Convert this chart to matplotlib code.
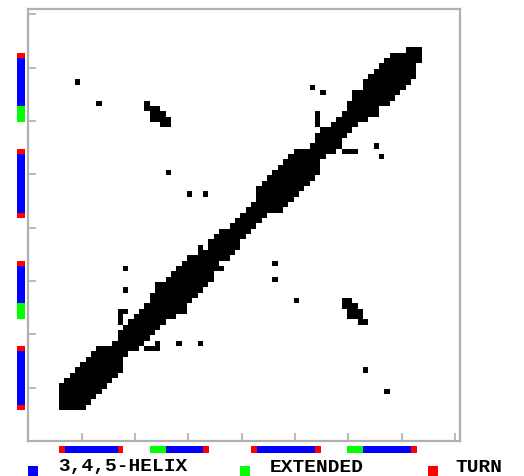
import numpy as np
import matplotlib
matplotlib.use("Agg")
import matplotlib.pyplot as plt
from matplotlib.colors import ListedColormap
from matplotlib.patches import Rectangle

# Residue contact map (symmetric), residues indexed 0..80
N_RES = 81
BAND_FIRST = 6
# highest contacting residue for each residue BAND_FIRST.. (diagonal band)
band_hi = [10, 11, 12, 13, 14, 15, 16, 17, 17, 17,   # 6-15
           18, 20, 21, 22, 23, 24, 25, 27, 29, 29,   # 16-25
           30, 31, 32, 33, 34, 34, 36, 35, 37, 38,   # 26-35
           39, 39, 40, 41, 42, 43, 44, 47, 48, 49,   # 36-45
           50, 51, 52, 53, 54, 54, 54, 55, 57, 58,   # 46-55
           58, 59, 60, 61, 63, 65, 65, 67, 68, 69,   # 56-65
           70, 71, 72, 72, 72, 73, 73, 73]           # 66-73

# off-band contacts (i < j)
extra_contacts = [(9, 67), (13, 63), (17, 22), (17, 23), (17, 24), (18, 24),
                  (18, 28), (18, 32), (26, 50), (30, 46), (33, 46),
                  (53, 66), (55, 65), (54, 59), (54, 60), (54, 61),
                  (22, 63), (22, 62), (23, 62), (24, 62), (23, 61), (24, 61),
                  (25, 61), (23, 60), (24, 60), (25, 60), (26, 60), (25, 59),
                  (26, 59)]

# secondary structure segments (first residue, last residue, type)
ss_first = [6, 7, 17, 23, 26, 33, 42, 43, 54, 60, 63, 72]
ss_last = [6, 16, 17, 25, 32, 33, 42, 53, 54, 62, 71, 72]
ss_type = ["T", "H", "T", "E", "H", "T", "T", "H", "T", "E", "H", "T"]

legend_labels = ["3,4,5-HELIX", "EXTENDED", "TURN"]
ss_colors = {"H": "#0000ff", "E": "#00ff00", "T": "#ff0000"}

# build the matrix
cmap_mat = np.zeros((N_RES, N_RES))
for k, hi in enumerate(band_hi):
    i = BAND_FIRST + k
    cmap_mat[i, i:hi + 1] = 1
for i, j in extra_contacts:
    cmap_mat[i, j] = 1
cmap_mat = np.maximum(cmap_mat, cmap_mat.T)

W, H = 524, 476
fig = plt.figure(figsize=(W / 100, H / 100), dpi=100)

OFF = 0.2  # cell r covers [r - OFF, r + 1 - OFF]
ax = fig.add_axes([28.3 / W, 35 / H, 432 / W, 432 / H])
ax.imshow(cmap_mat, cmap=ListedColormap(["white", "black"]), origin="lower",
          interpolation="nearest", extent=(-OFF, N_RES - OFF, -OFF, N_RES - OFF),
          aspect="auto")
ax.set_xlim(0, 81)
ax.set_ylim(0, 81)
ticks = np.arange(10, 81, 10)
ax.set_xticks(ticks)
ax.set_yticks(ticks)
ax.tick_params(direction="in", length=6, width=1.1, color="#a8a8a8",
               labelbottom=False, labelleft=False, bottom=True, left=True)
for s in ax.spines.values():
    s.set_color("#b0b0b0")
    s.set_linewidth(1.6)

# secondary structure strips
ax_b = fig.add_axes([28.3 / W, (476 - 453) / H, 432 / W, 7 / H])
ax_l = fig.add_axes([16.7 / W, 35 / H, 8.3 / W, 432 / H])
for a0, a1, t in zip(ss_first, ss_last, ss_type):
    c = ss_colors[t]
    ax_b.barh(0, a1 - a0 + 1, left=a0 - OFF, height=1, color=c, linewidth=0)
    ax_l.bar(0, a1 - a0 + 1, bottom=a0 - OFF, width=1, color=c, linewidth=0)
ax_b.set_xlim(0, 81)
ax_b.set_ylim(-0.5, 0.5)
ax_l.set_ylim(0, 81)
ax_l.set_xlim(-0.5, 0.5)
for a in (ax_b, ax_l):
    a.axis("off")

# legend
leg_sq_x = [28, 240, 428]
leg_txt_x = [58, 270, 455]
for sx, tx, t, lab in zip(leg_sq_x, leg_txt_x, ["H", "E", "T"], legend_labels):
    fig.add_artist(Rectangle((sx / W, 0), 9.5 / W, 10 / H, transform=fig.transFigure,
                             color=ss_colors[t], linewidth=0))
    fig.text(tx / W, 4.5 / H, lab, fontsize=14, family="Liberation Mono",
             fontweight="bold", ha="left", va="baseline", color="black")

fig.savefig("out.png", dpi=100)
